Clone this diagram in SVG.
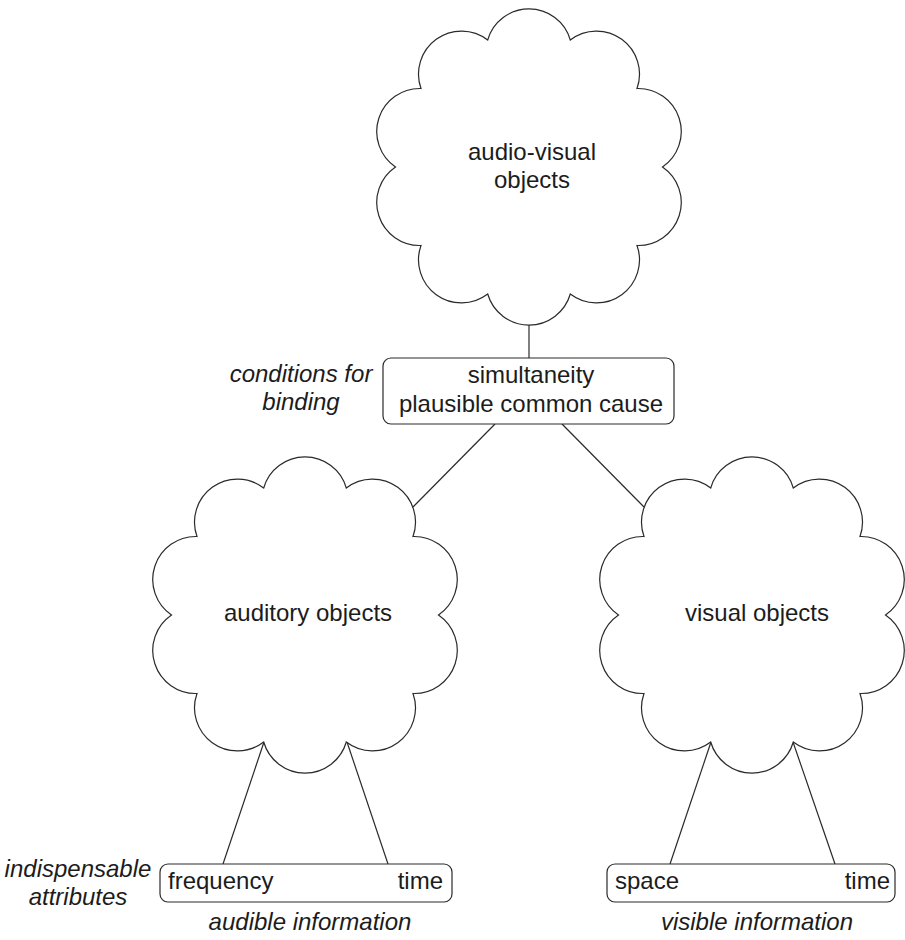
<svg xmlns="http://www.w3.org/2000/svg" width="905" height="940" viewBox="0 0 905 940">
<style>
.shape{fill:#fff;stroke:#2a2a2a;stroke-width:1.2}
.conn{stroke:#2a2a2a;stroke-width:1.2;fill:none}
text{font-family:"Liberation Sans",Arial,sans-serif;font-size:24px;fill:#1c1c1c}
.c{text-anchor:middle}
.e{text-anchor:end}
.i{font-style:italic}
</style>
<defs>
<path id="cloud" d="M133.5,0 A43,43 0 0,1 108,78.5 A43,43 0 0,1 41.3,127 A43,43 0 0,1 -41.3,127 A43,43 0 0,1 -108,78.5 A43,43 0 0,1 -133.5,0 A43,43 0 0,1 -108,-78.5 A43,43 0 0,1 -41.3,-127 A43,43 0 0,1 41.3,-127 A43,43 0 0,1 108,-78.5 A43,43 0 0,1 133.5,0 Z"/>
</defs>
<rect width="905" height="940" fill="#fff"/>
<g id="connectors">
<line class="conn" x1="529" y1="325" x2="529" y2="358"/>
<line class="conn" x1="495" y1="424" x2="413" y2="507"/>
<line class="conn" x1="562" y1="424" x2="644" y2="507"/>
<line class="conn" x1="264" y1="742" x2="223" y2="864"/>
<line class="conn" x1="347" y1="742" x2="388" y2="864"/>
<line class="conn" x1="711" y1="742" x2="670" y2="864"/>
<line class="conn" x1="793" y1="742" x2="835" y2="864"/>
</g>
<g id="audiovisual">
<use href="#cloud" class="shape" transform="translate(529,167)"/>
<text class="c" x="532" y="160">audio-visual</text>
<text class="c" x="532" y="188">objects</text>
</g>
<g id="conditions">
<rect class="shape" x="383" y="358" width="291" height="66" rx="8"/>
<text class="c" x="531" y="383">simultaneity</text>
<text class="c" x="531" y="412">plausible common cause</text>
</g>
<g id="conditions-label">
<text class="c i" x="301" y="382">conditions for</text>
<text class="c i" x="301" y="410">binding</text>
</g>
<g id="auditory">
<use href="#cloud" class="shape" transform="translate(305,615)"/>
<text class="c" x="308" y="621">auditory objects</text>
</g>
<g id="visual">
<use href="#cloud" class="shape" transform="translate(752,615)"/>
<text class="c" x="757" y="621">visual objects</text>
</g>
<g id="audible">
<rect class="shape" x="160" y="864" width="292" height="38" rx="8"/>
<text x="168" y="889">frequency</text>
<text class="e" x="443" y="889">time</text>
</g>
<g id="visible">
<rect class="shape" x="607" y="864" width="288" height="38" rx="8"/>
<text x="615" y="889">space</text>
<text class="e" x="890" y="889">time</text>
</g>
<g id="labels">
<text class="c i" x="78" y="877">indispensable</text>
<text class="c i" x="78" y="905">attributes</text>
<text class="c i" x="310" y="930">audible information</text>
<text class="c i" x="757" y="930">visible information</text>
</g>
</svg>
